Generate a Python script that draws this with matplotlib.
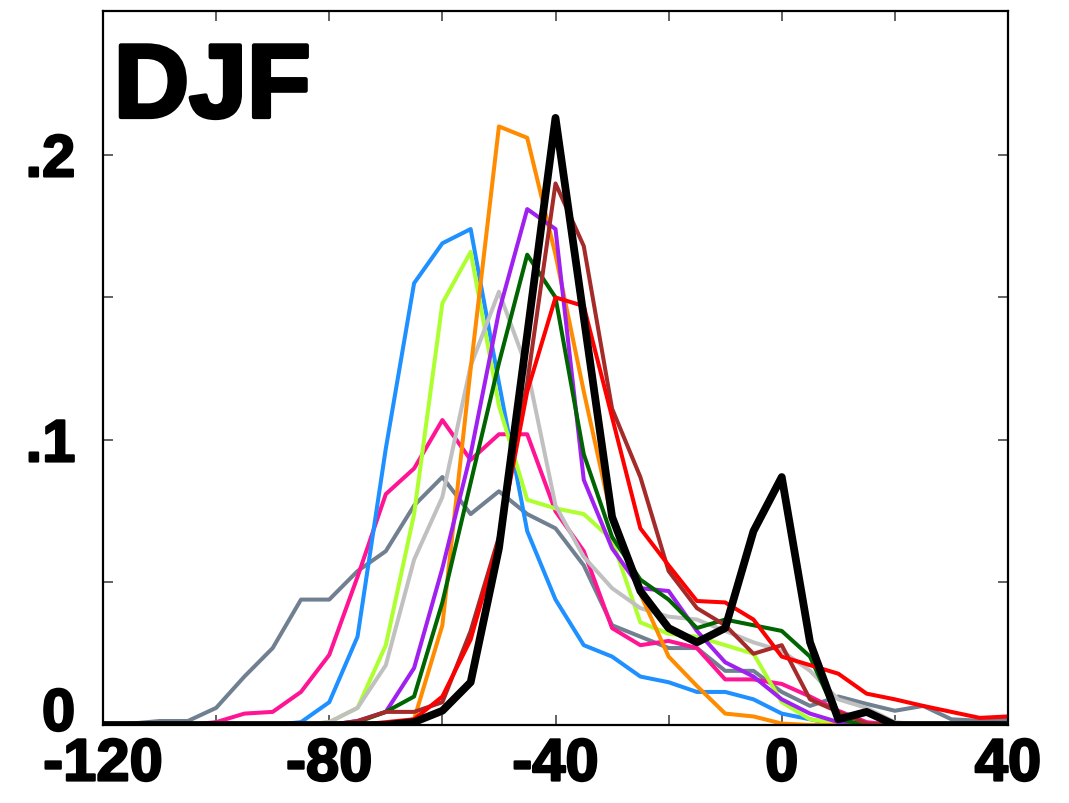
import matplotlib
matplotlib.use("Agg")
import matplotlib.pyplot as plt
import matplotlib.transforms as mtransforms
import matplotlib.patheffects as pe
import numpy as np

# x bins (every 5 units from -120 to 40)
x = list(range(-120, 41, 5))

obs = [0, 0, 0, 0, 0, 0, 0, 0, 0, 0, 0,
       0.001, 0.005, 0.015, 0.062, 0.137, 0.213, 0.143, 0.073, 0.047, 0.034,
       0.029, 0.034, 0.068, 0.087, 0.029, 0.002, 0.0046, 0, 0, 0, 0, 0]
orange = [0, 0, 0, 0, 0, 0, 0, 0, 0, 0, 0,
          0.002, 0.035, 0.125, 0.21, 0.206, 0.165, 0.117, 0.072, 0.046, 0.024,
          0.0137, 0.004, 0.003, 0.0005, 0, 0, 0, 0, 0, 0, 0, 0]
blue = [0, 0, 0, 0, 0, 0, 0,
        0.001, 0.008, 0.031, 0.097, 0.155, 0.169, 0.174, 0.12, 0.068, 0.044,
        0.028, 0.024, 0.017, 0.015, 0.0116, 0.0116, 0.009, 0.004, 0.002,
        0, 0, 0, 0, 0, 0, 0]
greenyellow = [0, 0, 0, 0, 0, 0, 0, 0,
               0.001, 0.006, 0.028, 0.074, 0.148, 0.166, 0.112, 0.079, 0.076,
               0.074, 0.065, 0.036, 0.032, 0.031, 0.028, 0.025, 0.008, 0.002,
               0.0005, 0, 0, 0, 0, 0, 0]
silver = [0, 0, 0, 0, 0, 0, 0, 0,
          0.001, 0.006, 0.021, 0.058, 0.080, 0.126, 0.152, 0.125, 0.077,
          0.059, 0.048, 0.041, 0.038, 0.037, 0.033, 0.029, 0.026, 0.019,
          0.009, 0.006, 0.001, 0, 0, 0, 0]
purple = [0, 0, 0, 0, 0, 0, 0, 0, 0,
          0.0014, 0.0046, 0.020, 0.055, 0.095, 0.145, 0.181, 0.174, 0.086,
          0.062, 0.048, 0.047, 0.033, 0.022, 0.017, 0.009, 0.004, 0.001,
          0, 0, 0, 0, 0, 0]
darkgreen = [0, 0, 0, 0, 0, 0, 0, 0, 0,
             0.001, 0.0046, 0.010, 0.043, 0.085, 0.127, 0.165, 0.150, 0.095,
             0.066, 0.051, 0.044, 0.034, 0.037, 0.035, 0.033, 0.024, 0.002,
             0, 0, 0, 0, 0, 0]
red = [0, 0, 0, 0, 0, 0, 0, 0, 0, 0,
       0.001, 0.002, 0.010, 0.030, 0.065, 0.117, 0.150, 0.147, 0.108, 0.069,
       0.056, 0.0435, 0.043, 0.037, 0.024, 0.021, 0.018, 0.011, 0.009, 0.0067,
       0.0046, 0.0025, 0.003]
brown = [0, 0, 0, 0, 0, 0, 0, 0, 0,
         0.0014, 0.0046, 0.0046, 0.008, 0.033, 0.066, 0.12, 0.19, 0.168, 0.111,
         0.087, 0.054, 0.041, 0.035, 0.025, 0.028, 0.009, 0.0046, 0.0005,
         0, 0, 0, 0, 0]
deeppink = [0, 0, 0, 0,
            0.001, 0.004, 0.0046, 0.0116, 0.0246, 0.052, 0.081, 0.090, 0.107,
            0.093, 0.102, 0.102, 0.075, 0.061, 0.034, 0.028, 0.0295, 0.027,
            0.016, 0.016, 0.0144, 0.010, 0.005, 0.001, 0, 0, 0, 0, 0]
slategrey = [0, 0.0005, 0.0014, 0.0014, 0.006, 0.017, 0.027, 0.044, 0.044,
             0.054, 0.061, 0.077, 0.087, 0.074, 0.082, 0.074, 0.069, 0.056,
             0.035, 0.031, 0.027, 0.027, 0.019, 0.019, 0.0116, 0.0067, 0.010,
             0.0074, 0.005, 0.0067, 0.002, 0.0015, 0.002]

models = [
    (slategrey, "#708090"),
    (deeppink, "#ff1493"),
    (blue, "#1e90ff"),
    (greenyellow, "#adff2f"),
    (silver, "#c0c0c0"),
    (orange, "#ff8c00"),
    (purple, "#a020f0"),
    (darkgreen, "#006400"),
    (brown, "#a52a2a"),
    (red, "#ff0000"),
]

xticks = [-120, -80, -40, 0, 40]
xticklabels = ["-120", "-80", "-40", "0", "40"]
yticks = [0, 0.05, 0.1, 0.15, 0.2]
yticklabels = ["0", "", ".1", "", ".2"]

fig = plt.figure(figsize=(10.69, 8.04), dpi=100)
ax = fig.add_axes([103 / 1069, 78 / 804, 905 / 1069, 714 / 804])

for vals, col in models:
    ax.plot(x, vals, color=col, lw=2.9, solid_joinstyle="round",
            solid_capstyle="round")
ax.plot(x, obs, color="black", lw=5.6, solid_joinstyle="round",
        solid_capstyle="round", zorder=5)

ax.set_xlim(-120, 40)
ax.set_ylim(0, 0.2505)

minor_x = list(range(-120, 41, 20))
ax.set_xticks(minor_x)
ax.set_xticklabels([xticklabels[xticks.index(v)] if v in xticks else ""
                    for v in minor_x])
ax.set_yticks(yticks)
ax.set_yticklabels(yticklabels)

stroke = [pe.withStroke(linewidth=1.6, foreground="black")]
for lab in ax.get_xticklabels() + ax.get_yticklabels():
    lab.set_fontfamily("Liberation Sans")
    lab.set_fontweight("bold")
    lab.set_fontsize(43)
    lab.set_path_effects(stroke)

ax.tick_params(axis="both", which="both", direction="in", length=7, width=1.3,
               color="#555555", top=True, right=True)
ax.tick_params(axis="x", pad=9)
ax.tick_params(axis="y", pad=20)

for s in ax.spines.values():
    s.set_linewidth(1.6)
    s.set_color("black")

# raise the "0" y label slightly as in the reference
ylabs = ax.get_yticklabels()
off = mtransforms.ScaledTranslation(0, 16 / 100, fig.dpi_scale_trans)
ylabs[0].set_transform(ylabs[0].get_transform() + off)

ax.text(0.012, 0.8515, "DJF", transform=ax.transAxes, ha="left",
        va="baseline", fontsize=75, fontweight="heavy",
        family="Liberation Sans",
        path_effects=[pe.withStroke(linewidth=3, foreground="black")])

fig.savefig("out.png", dpi=100)
